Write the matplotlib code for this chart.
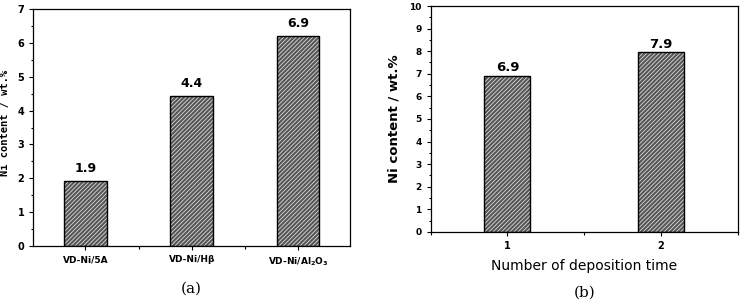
import numpy as np
from matplotlib import pyplot as plt
from matplotlib.ticker import MultipleLocator

# panel (a)
cats_a = ['VD-Ni/5A', 'VD-Ni/H\u03b2', 'VD-Ni/Al$_\\mathbf{2}$O$_\\mathbf{3}$']
vals_a = [1.92, 4.43, 6.2]
labels_a = ['1.9', '4.4', '6.9']

# panel (b)
cats_b = [1, 2]
vals_b = [6.92, 7.95]
labels_b = ['6.9', '7.9']

plt.rcParams['font.family'] = 'DejaVu Sans'
plt.rcParams['hatch.linewidth'] = 0.6

fig = plt.figure(figsize=(7.4, 3.0), dpi=100)
ax1 = fig.add_axes([0.045, 0.18, 0.428, 0.79])
ax2 = fig.add_axes([0.582, 0.227, 0.415, 0.753])


def hatched_bars(ax, x, h, w):
	ax.bar(x, h, w, color='#555555', edgecolor='#dcdcdc', hatch='////////', linewidth=0, zorder=2)
	ax.bar(x, h, w, fill=False, edgecolor='black', linewidth=1.0, zorder=3)


def style_axis(ax):
	ax.tick_params(which='both', direction='out', top=False, right=False, width=0.8)
	ax.tick_params(which='major', length=3, labelsize=7)
	ax.tick_params(which='minor', length=1.8)
	for lab in ax.get_xticklabels() + ax.get_yticklabels():
		lab.set_fontweight('bold')
	for sp in ax.spines.values():
		sp.set_linewidth(0.9)


xa = np.arange(len(cats_a))
hatched_bars(ax1, xa, vals_a, 0.4)
for x, v, t in zip(xa, vals_a, labels_a):
	ax1.text(x, v + 0.17, t, ha='center', va='bottom', fontsize=9, fontweight='bold')
ax1.set_xlim(-0.49, 2.49)
ax1.set_ylim(0, 7)
ax1.set_xticks(xa)
ax1.set_xticklabels(cats_a, fontsize=6.5)
ax1.xaxis.set_minor_locator(MultipleLocator(0.5))
ax1.yaxis.set_major_locator(MultipleLocator(1))
ax1.yaxis.set_minor_locator(MultipleLocator(0.5))
ax1.set_ylabel('Ni content / wt.%', fontsize=7.5, fontweight='bold', family='DejaVu Sans Mono')
ax1.yaxis.set_label_coords(-0.075, 0.52)
style_axis(ax1)
ax1.tick_params(axis='x', labelsize=6.5)
ax1.text(0.5, -0.15, '(a)', transform=ax1.transAxes, ha='center', va='top',
	fontsize=11, family='DejaVu Serif')

hatched_bars(ax2, cats_b, vals_b, 0.3)
for x, v, t in zip(cats_b, vals_b, labels_b):
	ax2.text(x, v + 0.05, t, ha='center', va='bottom', fontsize=9.5, fontweight='bold')
ax2.set_xlim(0.5, 2.5)
ax2.set_ylim(0, 10)
ax2.set_xticks(cats_b)
ax2.xaxis.set_minor_locator(MultipleLocator(0.5))
ax2.yaxis.set_major_locator(MultipleLocator(1))
ax2.yaxis.set_minor_locator(MultipleLocator(0.5))
ax2.set_ylabel('Ni content / wt.%', fontsize=9.5, fontweight='bold', labelpad=6)
ax2.set_xlabel('Number of deposition time', fontsize=10, labelpad=6)
style_axis(ax2)
ax2.tick_params(axis='y', labelsize=6.5)
ax2.text(0.5, -0.24, '(b)', transform=ax2.transAxes, ha='center', va='top',
	fontsize=11, family='DejaVu Serif')

fig.savefig('out.png', dpi=100)
